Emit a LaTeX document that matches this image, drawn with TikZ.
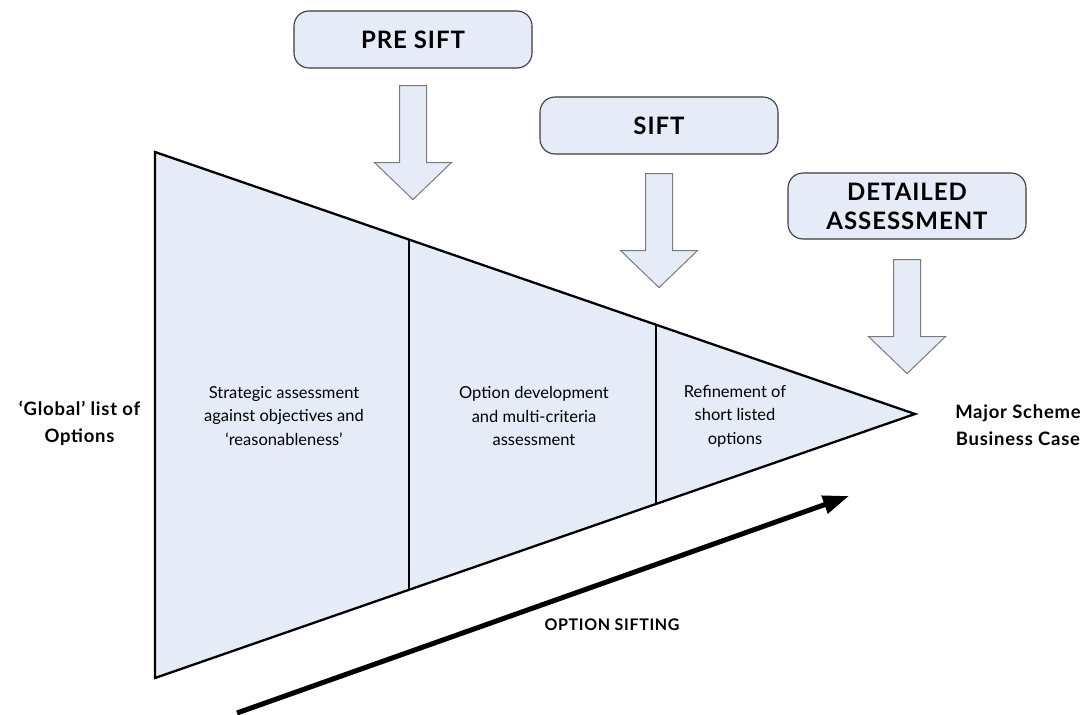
\documentclass[tikz,border=0pt]{standalone}
\usepackage{fontspec}
\setmainfont{Lato}
\usetikzlibrary{arrows.meta}

\definecolor{paleblue}{HTML}{E6ECF7}
\definecolor{boxline}{HTML}{3A3A3A}
\definecolor{arrowline}{HTML}{7A7A7A}

\tikzset{
  stagebox/.style={draw=boxline, line width=1.1pt, fill=paleblue, rounded corners=15pt,
    minimum width=238pt, align=center, inner sep=0pt,
    font=\fontsize{24}{29}\selectfont\bfseries\addfontfeatures{LetterSpace=4}},
  phasetext/.style={align=center, inner sep=0pt, font=\fontsize{16.5}{23.5}\selectfont},
  endlabel/.style={align=center, inner sep=0pt,
    font=\fontsize{18.5}{27}\selectfont\bfseries\addfontfeatures{LetterSpace=4}},
  funnel/.style={fill=paleblue, draw=black, line width=2.3pt, line join=miter},
  divider/.style={draw=black, line width=2pt},
  blockarrow/.style={fill=paleblue, draw=arrowline, line width=1pt, line join=miter},
  siftarrow/.style={draw=black, line width=5pt, -{Triangle[length=26pt,width=18pt]}}
}

% down-pointing block arrow hanging below the given point
\newcommand\dropArrow[1]{%
  \path[blockarrow] (#1) ++(-13.5,0) -- ++(27,0) -- ++(0,77) -- ++(25,0)
    -- ++(-38.5,37) -- ++(-38.5,-37) -- ++(25,0) -- cycle;}

\begin{document}
\begin{tikzpicture}[x=1pt,y=-1pt]
\useasboundingbox (0,0) rectangle (1085,715);

% stage headings
\node[stagebox, minimum height=57pt] (pre)  at (413,39.5)  {PRE SIFT};
\node[stagebox, minimum height=57pt] (sift) at (659,125.5) {SIFT};
\node[stagebox, minimum height=66pt] (det)  at (907,206)   {DETAILED\\ASSESSMENT};

% funnel
\coordinate (tl) at (155,152);
\coordinate (bl) at (155,678);
\coordinate (apex) at (915,414);
\path[funnel] (tl) -- (apex) -- (bl) -- cycle;

% stage boundaries inside the funnel
\coordinate (d1t) at (409,240);
\coordinate (d1b) at (409,590);
\coordinate (d2t) at (656,325);
\coordinate (d2b) at (656,504);
\draw[divider] (d1t) -- (d1b);
\draw[divider] (d2t) -- (d2b);

% block arrows below each heading
\path (pre.south)  ++(0,17) coordinate (preA);
\path (sift.south) ++(0,19) coordinate (siftA);
\path (det.south)  ++(0,20) coordinate (detA);
\dropArrow{preA}
\dropArrow{siftA}
\dropArrow{detA}

% texts
\node[phasetext] (strat)  at (284,416) {Strategic assessment\\against objectives and\\‘reasonableness’};
\node[phasetext] (optdev) at (534,416) {Option development\\and multi-criteria\\assessment};
\node[phasetext] (refine) at (735,416) {Refinement of\\short listed\\options};

\node[endlabel] (global) at (79.5,423) {‘Global’ list of\\Options};
\node[endlabel] (major)  at (1018,425) {Major Scheme\\Business Case};

% sifting direction
\coordinate (sStart) at (237,713);
\coordinate (sEnd) at (849,496);
\draw[siftarrow] (sStart) -- (sEnd);
\node[inner sep=0pt, font=\fontsize{16}{19}\selectfont\bfseries\addfontfeatures{LetterSpace=4}]
  (siftlbl) at (612,625) {OPTION SIFTING};
\end{tikzpicture}
\end{document}
